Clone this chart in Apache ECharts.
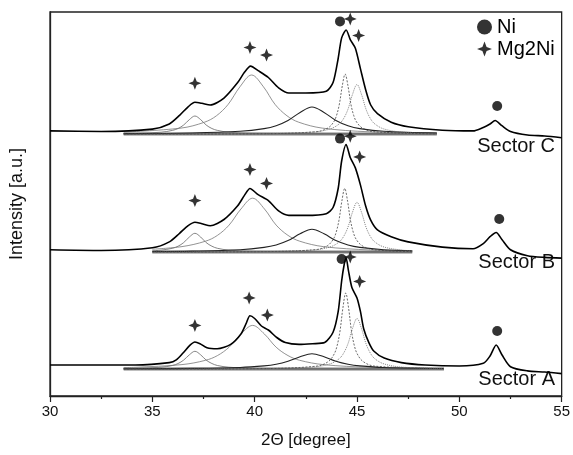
<!DOCTYPE html>
<html><head><meta charset="utf-8">
<script src="https://cdn.jsdelivr.net/npm/echarts@6/dist/echarts.min.js"></script>
<style>html,body{margin:0;padding:0;background:#fff}#c{width:573px;height:455px}</style>
</head><body><div id="c"></div>
<script>
// ---- axis ----
const xMin = 30, xMax = 55, xStep = 5;
const yMin = 0, yMax = 384;

// ---- measured patterns (2theta, intensity a.u.) ----
const sectorA = [[30,31],[32.5,31],[34.17,31],[35.83,33.4],[36.17,36.1],[36.5,43],[36.83,50.6],[37.08,54],[37.33,52.3],[37.67,48.2],[38.17,47.2],[38.83,51.6],[39.33,62],[39.58,72.3],[39.77,80.2],[40.0,77.5],[40.33,70],[40.67,66],[41.08,58.5],[41.5,53.4],[42.17,51.6],[42.83,52.3],[43.42,53.4],[43.83,63.7],[44.08,84.3],[44.25,115],[44.37,131],[44.47,138],[44.58,125.7],[44.75,108.5],[45.0,98],[45.17,84.3],[45.33,67],[45.58,53.4],[45.83,44.7],[46.33,37.9],[47.17,33.4],[48.33,31],[50.0,30],[51.17,32.7],[51.5,40],[51.8,51],[52.08,41.3],[52.5,29.3],[53.33,25.1],[54.17,24],[55,22.4]];
const sectorB = [[30,146.2],[32.5,145.5],[35,148.2],[35.83,154.1],[36.33,162.7],[36.75,170.3],[37.08,173.7],[37.42,172.3],[37.83,170.3],[38.5,176.5],[39.17,190.2],[39.5,200.6],[39.77,207.5],[40.17,201.3],[40.67,195.4],[41.17,185.1],[41.67,180.6],[42.5,180.6],[43.5,182.3],[43.83,188.5],[44.08,207.5],[44.25,235],[44.47,251.5],[44.67,238.5],[44.92,228.1],[45.17,210.9],[45.42,190.2],[45.67,175.8],[46.0,166.1],[46.67,159.3],[47.5,154.1],[49.17,148.9],[50.67,147.2],[51.17,152.4],[51.5,159.3],[51.8,163.5],[52.08,156.5],[52.5,146.2],[53.33,140.3],[54.17,138.6],[55,137.9]];
const sectorC = [[30,265.1],[32.5,264.5],[35,266.9],[35.83,272],[36.33,280.6],[36.75,289.2],[37.08,293.7],[37.42,292.7],[37.83,291],[38.5,297.9],[39.17,313.4],[39.5,323.7],[39.8,329.9],[40.17,325.4],[40.67,318.5],[41.17,308.2],[41.67,303],[42.5,303],[43.5,304.7],[43.83,313.4],[44.08,337.5],[44.25,358.1],[44.47,366],[44.67,356.4],[44.92,347.8],[45.17,327.1],[45.42,306.5],[45.67,291],[46.0,282.4],[46.67,273.8],[47.5,269.3],[49.17,265.8],[50.67,265.1],[51.17,268.6],[51.5,272],[51.75,275.5],[52.08,270.3],[52.5,264.5],[53.33,261],[54.17,260],[55,258.3]];

// ---- fitted components, sector A ----
const fitA1 = [[33.6,27.4],[34.33,27.7],[35.43,28.8],[35.98,30.5],[36.26,32.5],[36.53,35.9],[36.81,41.2],[37.08,44.7],[37.36,41.2],[37.63,35.9],[37.91,32.5],[38.18,30.5],[38.73,28.8],[39.83,27.7],[42.5,27.2],[49.25,27.05]];
const fitA2 = [[33.6,28.4],[34.15,28.7],[36.45,31.4],[37.6,35.7],[38.18,40.4],[38.75,48.8],[39.33,61.9],[39.9,70.6],[40.48,61.9],[41.05,48.8],[41.63,40.4],[42.2,35.7],[43.35,31.4],[45.65,28.7],[49.25,27.65]];
const fitA3 = [[33.6,27.2],[36.95,27.6],[39.29,28.5],[40.46,30.1],[41.05,31.7],[41.63,34.7],[42.22,39.2],[42.8,42.3],[43.39,39.2],[43.97,34.7],[44.56,31.7],[45.14,30.1],[46.31,28.5],[49.25,27.5]];
const fitA4 = [[33.6,27],[40.0,27.3],[43.05,29.9],[43.61,34.6],[43.89,42.2],[44.03,50.4],[44.17,65],[44.31,87.8],[44.45,103],[44.59,87.8],[44.73,65],[44.87,50.4],[45.01,42.2],[45.29,34.6],[45.85,29.9],[49.25,27.3]];
const fitA5 = [[33.6,27.1],[40.0,27.4],[42.8,28.9],[43.68,32.1],[44.12,37.1],[44.34,42.6],[44.56,52.3],[44.78,67.4],[45.0,77.5],[45.22,67.4],[45.44,52.3],[45.66,42.6],[45.88,37.1],[46.32,32.1],[47.2,28.9],[49.25,27.5]];
const baseA = [[33.6,27],[49.25,27]];

// ---- fitted components, sector B ----
const fitB1 = [[35.0,145.2],[35.43,145.9],[35.98,147.7],[36.26,149.8],[36.53,153.4],[36.81,159],[37.08,162.7],[37.36,159],[37.63,153.4],[37.91,149.8],[38.18,147.7],[38.73,145.9],[39.83,144.7],[47.7,144.1]];
const fitB2 = [[35.0,146.8],[36.45,149.4],[37.6,154.8],[38.18,160.6],[38.75,170.9],[39.33,187],[39.9,197.8],[40.48,187],[41.05,170.9],[41.63,160.6],[42.2,154.8],[43.35,149.4],[45.65,146],[47.7,145.1]];
const fitB3 = [[35.0,144.5],[36.95,144.9],[39.29,146.3],[40.46,148.6],[41.05,151],[41.63,155.4],[42.22,162.2],[42.8,166.8],[43.39,162.2],[43.97,155.4],[44.56,151],[45.14,148.6],[46.31,146.3],[47.7,145.2]];
const fitB4 = [[35.0,144],[40.0,144.3],[43.0,146.4],[43.56,150.4],[43.84,156.7],[43.98,163.6],[44.12,175.8],[44.26,194.8],[44.4,207.5],[44.54,194.8],[44.68,175.8],[44.82,163.6],[44.96,156.7],[45.24,150.4],[45.8,146.4],[47.7,144.4]];
const fitB5 = [[35.0,144.1],[40.0,144.4],[42.8,145.9],[43.68,149],[44.12,153.9],[44.34,159.3],[44.56,168.9],[44.78,183.8],[45.0,193.7],[45.22,183.8],[45.44,168.9],[45.66,159.3],[45.88,153.9],[46.32,149],[47.2,145.9],[47.7,145.3]];
const baseB = [[35.0,144],[47.7,144]];

// ---- fitted components, sector C ----
const fitC1 = [[33.6,262.4],[34.33,262.7],[35.43,263.8],[35.98,265.6],[36.26,267.5],[36.53,271],[36.81,276.4],[37.08,280],[37.36,276.4],[37.63,271],[37.91,267.5],[38.18,265.6],[38.73,263.8],[39.83,262.7],[48.9,262.1]];
const fitC2 = [[33.6,263.9],[36.4,267.9],[37.55,273.8],[38.13,280.2],[38.7,291.5],[39.28,309.2],[39.85,321],[40.43,309.2],[41.0,291.5],[41.58,280.2],[42.15,273.8],[43.3,267.9],[45.6,264.2],[48.9,262.9]];
const fitC3 = [[33.6,262.4],[36.95,263],[39.29,264.7],[40.46,267.4],[41.05,270.3],[41.63,275.5],[42.22,283.6],[42.8,289],[43.39,283.6],[43.97,275.5],[44.56,270.3],[45.14,267.4],[46.31,264.7],[48.9,263]];
const fitC4 = [[33.6,262],[40.0,262.2],[43.02,264.3],[43.58,268],[43.86,274],[44.0,280.5],[44.14,292],[44.28,310],[44.42,322],[44.56,310],[44.7,292],[44.84,280.5],[44.98,274],[45.26,268],[45.82,264.3],[48.9,262.2]];
const fitC5 = [[33.6,262.1],[40.0,262.4],[42.8,263.9],[43.68,267],[44.12,271.9],[44.34,277.2],[44.56,286.8],[44.78,301.6],[45.0,311.5],[45.22,301.6],[45.44,286.8],[45.66,277.2],[45.88,271.9],[46.32,267],[47.2,263.9],[48.9,262.6]];
const baseC = [[33.6,262],[48.9,262]];

// ---- phase markers ----
const niMarks = [[44.17,374.6],[51.85,290],[44.17,257.4],[51.95,177],[44.25,137],[51.85,65]];
const mg2niMarks = [[37.08,312.7],[39.77,348.5],[40.58,340.9],[44.67,377.1],[45.08,360.5],
                    [37.08,195.4],[39.77,226.4],[40.58,212.6],[44.67,259.8],[45.13,239.1],
                    [37.08,70.6],[39.73,98.1],[40.62,80.9],[44.67,139],[45.13,114.6]];

// ---- texts ----
const legendNames = ['Ni', 'Mg2Ni'];
const sectorLabels = ['Sector C', 'Sector B', 'Sector A'];
const xTitle = '2\u0398 [degree]';
const yTitle = 'Intensity [a.u.]';

const FONT = 'Liberation Sans, Arial, sans-serif';
const star = 'path://M0,-10 L2.8,-2.8 L10,0 L2.8,2.8 L0,10 L-2.8,2.8 L-10,0 L-2.8,-2.8 Z';

function mainLine(d){return {type:'line',data:d,showSymbol:false,smooth:0.25,silent:true,lineStyle:{color:'#000',width:1.6},z:5};}
function comp(d,color,width,type){return {type:'line',data:d,showSymbol:false,smooth:0.35,silent:true,lineStyle:{color:color,width:width,type:type||'solid'},z:3};}
function base(d){return [
  {type:'line',data:d,showSymbol:false,silent:true,lineStyle:{color:'#aaa',width:3.5},z:2},
  {type:'line',data:d,showSymbol:false,silent:true,lineStyle:{color:'#333',width:0.8},z:2}];}

const series = [];
[[sectorA,fitA1,fitA2,fitA3,fitA4,fitA5,baseA],
 [sectorB,fitB1,fitB2,fitB3,fitB4,fitB5,baseB],
 [sectorC,fitC1,fitC2,fitC3,fitC4,fitC5,baseC]].forEach(s=>{
  series.push(...base(s[6]));
  series.push(comp(s[1],'#666',0.8));
  series.push(comp(s[2],'#777',0.8));
  series.push(comp(s[3],'#222',1.1));
  series.push(comp(s[4],'#444',0.8,[2,1.5]));
  series.push(comp(s[5],'#666',0.8,[1,1]));
  series.push(mainLine(s[0]));
});
series.push({name:legendNames[0],type:'scatter',data:niMarks,symbol:'circle',symbolSize:10,itemStyle:{color:'#000'},z:6});
series.push({name:legendNames[1],type:'scatter',data:mg2niMarks,symbol:star,symbolSize:13,itemStyle:{color:'#000'},z:6});

const chart = echarts.init(document.getElementById('c'), null, {renderer:'canvas'});
chart.setOption({
  animation:false,
  backgroundColor:'#fff',
  textStyle:{fontFamily:FONT},
  grid:{left:48,right:10,top:12,bottom:59,show:true,borderColor:'#222',borderWidth:1.3,backgroundColor:'transparent'},
  legend:{
    data:[{name:legendNames[0],icon:'circle'},{name:legendNames[1],icon:star}],
    orient:'vertical',left:472,top:12,itemWidth:15,itemHeight:15,itemGap:2,
    textStyle:{fontSize:20,color:'#000',fontFamily:FONT},selectedMode:false
  },
  xAxis:{type:'value',min:xMin,max:xMax,interval:xStep,
    axisLine:{show:true,lineStyle:{color:'#222',width:1.3}},
    axisTick:{show:true,inside:false,length:6,lineStyle:{color:'#222',width:1.2}},
    minorTick:{show:true,splitNumber:2,length:3,lineStyle:{color:'#222',width:1.2}},
    splitLine:{show:false},
    axisLabel:{fontSize:15,color:'#111',margin:8,fontFamily:FONT},
    name:xTitle,nameLocation:'middle',nameGap:36,
    nameTextStyle:{fontSize:17,color:'#111',fontFamily:FONT}},
  yAxis:{type:'value',min:yMin,max:yMax,
    axisLine:{show:true,lineStyle:{color:'#222',width:1.3}},
    axisTick:{show:false},axisLabel:{show:false},splitLine:{show:false},
    name:yTitle,nameLocation:'middle',nameGap:24,
    nameTextStyle:{fontSize:18,color:'#111',fontFamily:FONT}},
  graphic:[
    {type:'text',right:18,top:136,style:{text:sectorLabels[0],fontSize:20,fill:'#111',fontFamily:FONT}},
    {type:'text',right:18,top:252,style:{text:sectorLabels[1],fontSize:20,fill:'#111',fontFamily:FONT}},
    {type:'text',right:18,top:369,style:{text:sectorLabels[2],fontSize:20,fill:'#111',fontFamily:FONT}}
  ],
  series:series
});
</script></body></html>
